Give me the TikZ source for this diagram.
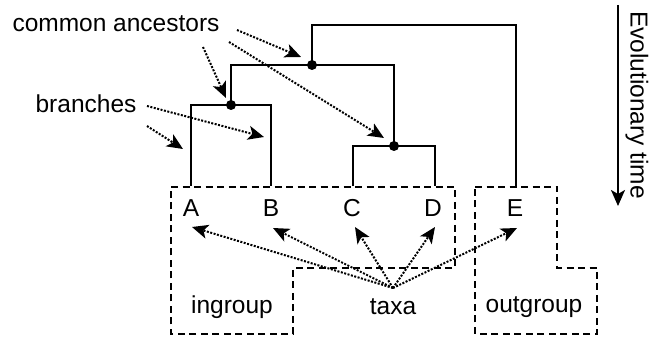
\documentclass[tikz,border=0pt]{standalone}
\usepackage{fontspec}
\setmainfont{Liberation Sans}
\usetikzlibrary{arrows.meta}
\begin{document}
\begin{tikzpicture}[x=1pt,y=-1pt,
  tree/.style={line width=2pt},
  anc/.style={circle,fill=black,inner sep=0pt,minimum size=10pt},
  lbl/.style={font=\fontsize{24.5}{28}\selectfont,inner sep=0pt},
  ptr/.style={line width=2pt,dash pattern=on 2pt off 1.5pt,-{Stealth[length=16pt,width=14pt,inset=4pt]}},
  grp/.style={line width=1.8pt,dash pattern=on 7pt off 4.5pt},
  timearrow/.style={line width=2pt,-{Stealth[length=16pt,width=14pt,inset=4pt]}}]
\useasboundingbox (0,0) rectangle (649,339);
% ancestors
\node[anc] (root) at (312,65) {};
\node[anc] (ab) at (231,105) {};
\node[anc] (cd) at (394,146) {};
% leaf tops
\coordinate (ta) at (191,186);
\coordinate (tb) at (271,186);
\coordinate (tc) at (353,186);
\coordinate (td) at (435,186);
\coordinate (te) at (516,186);
% tree
\draw[tree] (root.center) -- (312,25) -| (te);
\draw[tree] (ab.center) |- (root.center) -| (cd.center);
\draw[tree] (ta) |- (ab.center) -| (tb);
\draw[tree] (tc) |- (cd.center) -| (td);
% leaf labels
\node[lbl] (A) at (191,208) {A};
\node[lbl] (B) at (271,208) {B};
\node[lbl] (C) at (352,208) {C};
\node[lbl] (D) at (433,208) {D};
\node[lbl] (E) at (515,208) {E};
% groups
\draw[grp] (171,187) -- (455,187) -- (455,268) -- (293,268) -- (293,334) -- (171,334) -- cycle;
\draw[grp] (475,187) -- (557,187) -- (557,268) -- (597,268) -- (597,334) -- (475,334) -- cycle;
\node[lbl] (ingroup) at (232,307) {ingroup};
\node[lbl] (taxa) at (393,307) {taxa};
\node[lbl] (outgroup) at (534,307) {outgroup};
% taxa pointers
\coordinate (tx) at (393,288);
\coordinate (pa) at (192,227);
\coordinate (pb) at (273,228);
\coordinate (pc) at (355,227);
\coordinate (pd) at (435,227);
\coordinate (pe) at (517,228);
\foreach \p in {pa,pb,pc,pd,pe} \draw[ptr] (tx) -- (\p);
% common ancestors
\node[lbl] (ca) at (116,24) {common ancestors};
\coordinate (ca1) at (237,30);
\coordinate (ca2) at (229,42);
\coordinate (ca3) at (203,47);
\coordinate (ca1t) at (301,57);
\coordinate (ca2t) at (384,138);
\coordinate (ca3t) at (226,98);
\draw[ptr] (ca1) -- (ca1t);
\draw[ptr] (ca2) -- (ca2t);
\draw[ptr] (ca3) -- (ca3t);
% branches
\node[lbl] (br) at (86,104) {branches};
\coordinate (b1) at (147,106);
\coordinate (b1t) at (264,137);
\coordinate (b2) at (147,126);
\coordinate (b2t) at (183,149);
\draw[ptr] (b1) -- (b1t);
\draw[ptr] (b2) -- (b2t);
% time
\coordinate (t0) at (618,5);
\coordinate (t1) at (618,206);
\draw[timearrow] (t0) -- (t1);
\node[lbl,rotate=-90] (et) at (637,105) {Evolutionary time};
\end{tikzpicture}
\end{document}
